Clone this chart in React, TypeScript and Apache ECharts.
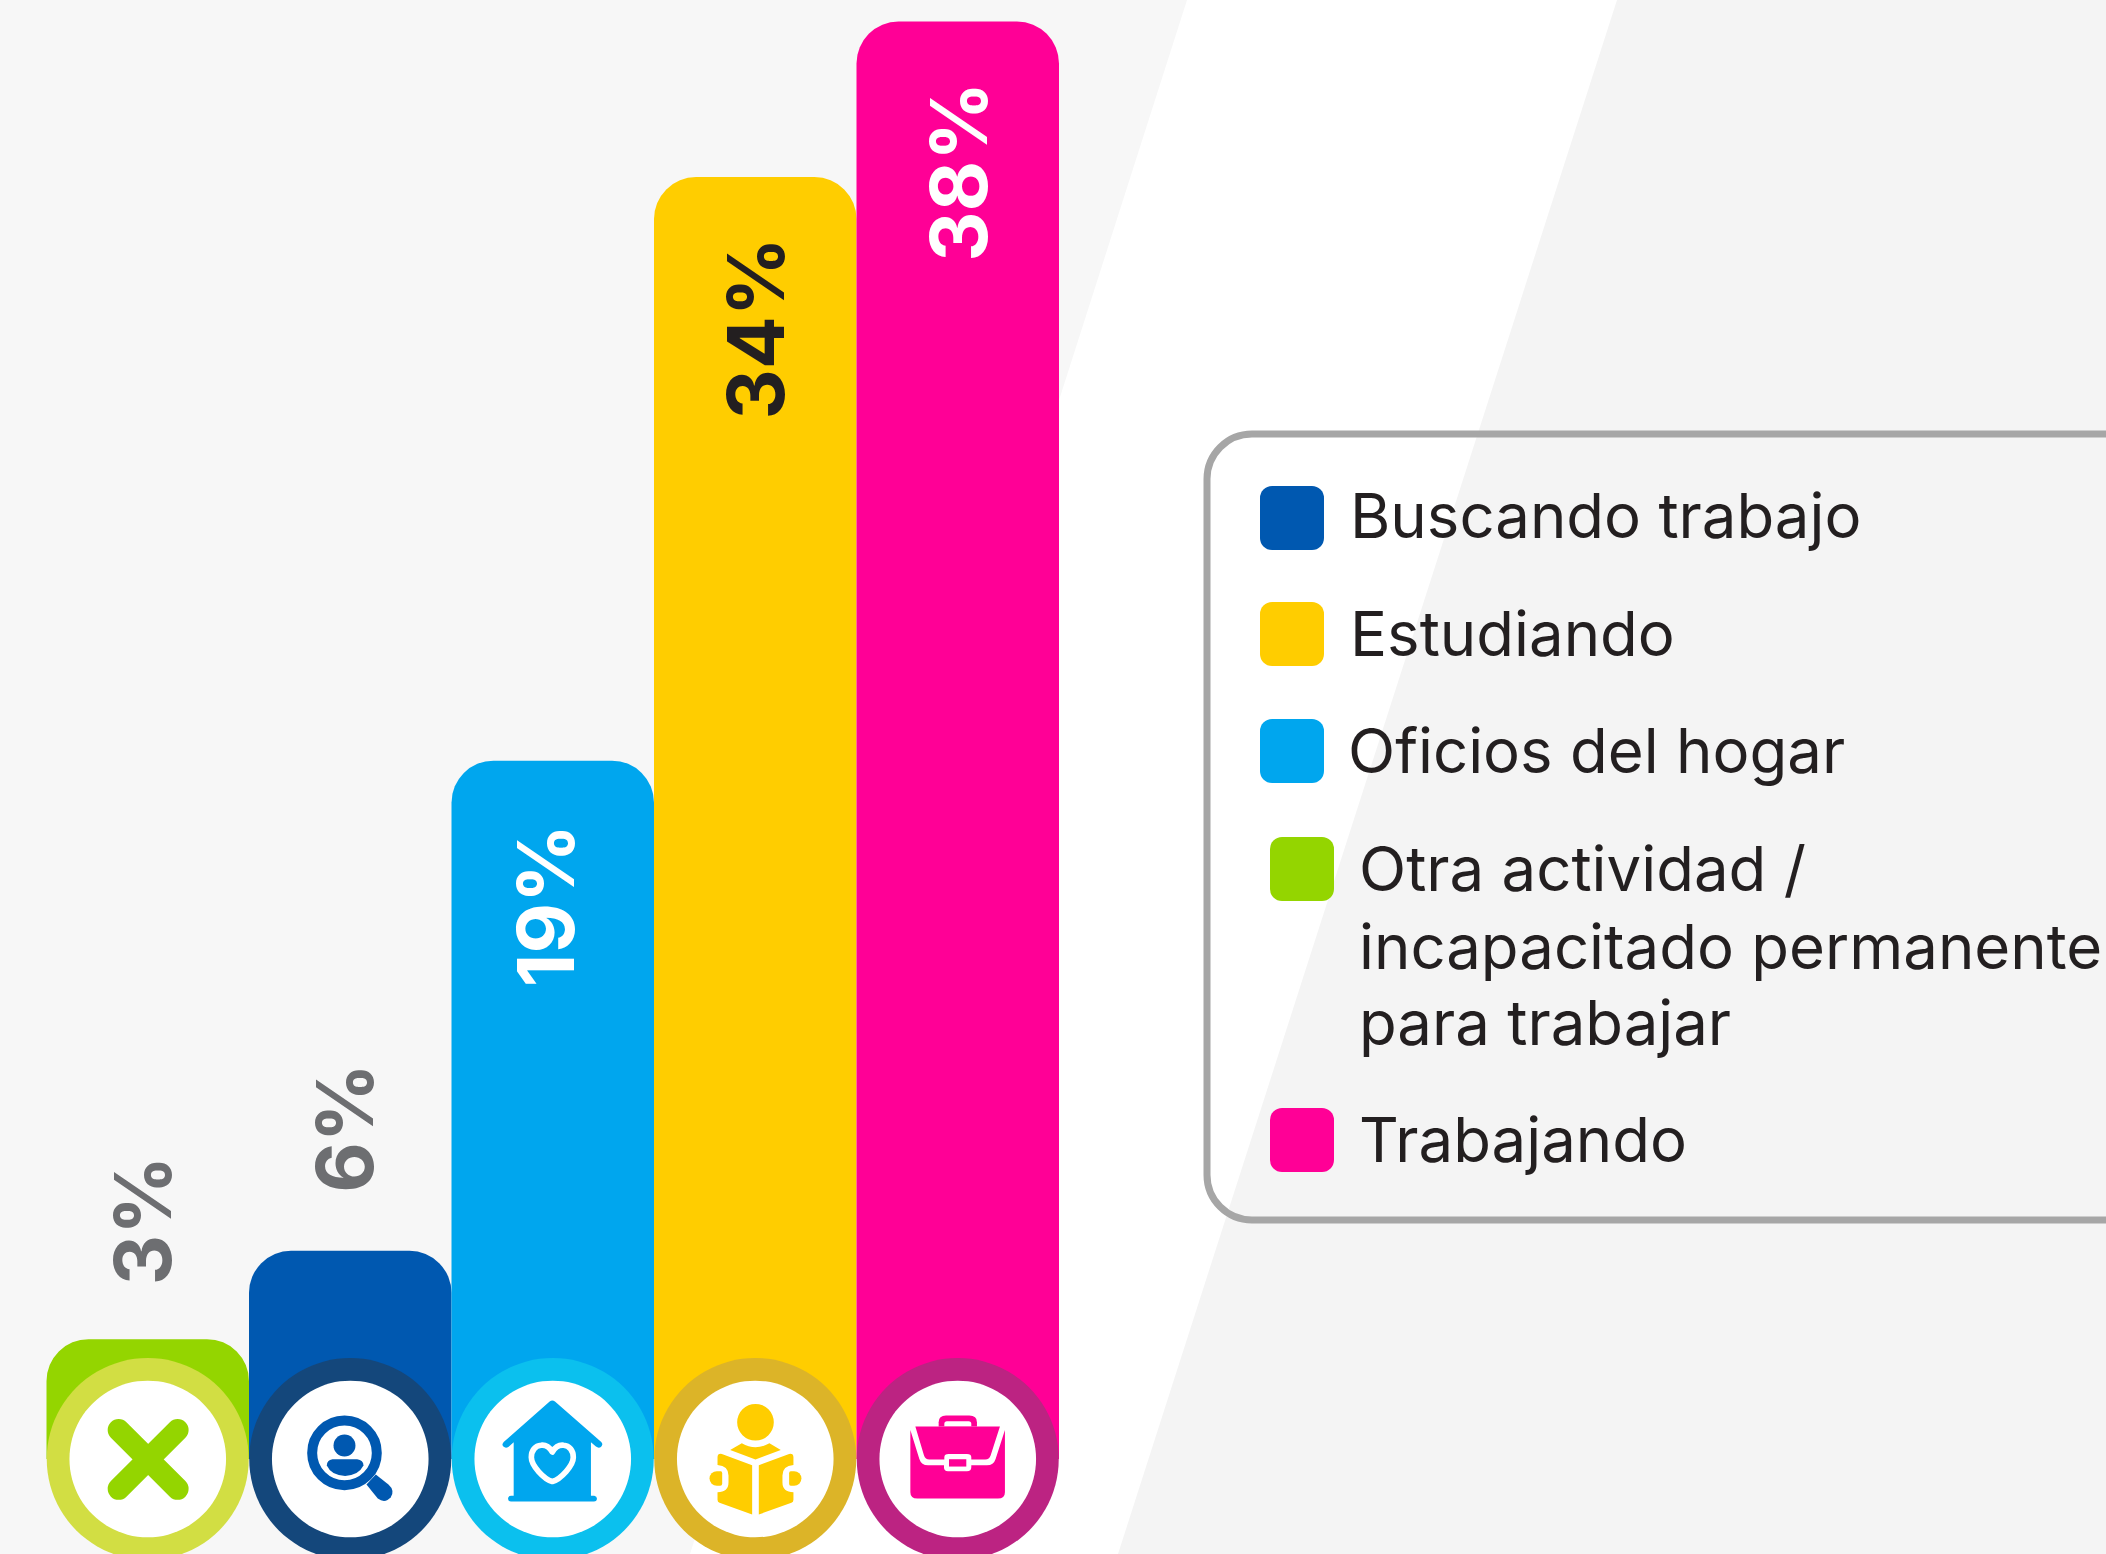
import React, { useEffect, useRef } from "react";
import * as echarts from "echarts";

const categories = ["Otra actividad / incapacitado permanente para trabajar", "Buscando trabajo", "Oficios del hogar", "Estudiando", "Trabajando"];
const percentLabels = [3, 6, 19, 34, 38];
const barHeights = [4.13, 6.4, 19, 34, 38];
const barColors = ["#94d500", "#0058b0", "#00a6ee", "#ffcd00", "#ff0096"];
const ringColors = ["#d2de43", "#14477b", "#0bc0ee", "#dcb428", "#bc2382"];
const labelColors = ["#6d6e71", "#6d6e71", "#ffffff", "#231f20", "#ffffff"];
const legendOrder = [1, 3, 2, 0, 4];
const legendLines = [["Buscando trabajo"], ["Estudiando"], ["Oficios del hogar"], ["Otra actividad /", "incapacitado permanente", "para trabajar"], ["Trabajando"]];

const AXIS_MIN = 1.05;
const AXIS_MAX = 38;

type Part = { d: string; fill?: string; stroke?: string; w?: number };
const M = "main";
const W = "#ffffff";
const circleD = (x: number, y: number, r: number) => `M${x},${y - r} A${r},${r} 0 1 1 ${x},${y + r} A${r},${r} 0 1 1 ${x},${y - r} Z`;

const icons: { cx: number; cy: number; parts: Part[] }[] = [
  { cx: 322, cy: 315, parts: [
    { d: "M235,228 L412,405", stroke: M, w: 66 },
    { d: "M412,228 L235,405", stroke: M, w: 66 },
  ] },
  { cx: 315, cy: 315, parts: [
    { d: circleD(298, 297, 97), stroke: M, w: 30 },
    { d: circleD(298, 275, 33), fill: M },
    { d: "M262,316 L336,316 Q355,318 355,335 Q340,365 300,366 Q258,365 245,335 Q245,318 262,316 Z", fill: M },
    { d: "M392,362 L430,392 Q450,410 437,430 Q420,450 398,434 L364,392 Z", fill: M },
  ] },
  { cx: 317, cy: 315, parts: [
    { d: "M308,143 Q316,136 324,143 L463,264 Q470,272 462,279 Q455,284 447,278 L432,265 L432,426 L442,426 Q450,428 450,434 Q450,443 441,443 L192,443 Q183,443 183,434 Q183,427 192,426 L200,426 L200,265 L184,279 Q176,284 169,278 Q163,272 170,264 Z", fill: M },
    { d: "M316,294 C305,276 290,273 282,274 C265,275 253,290 253,310 C253,335 290,375 316,383 C342,375 379,335 379,310 C379,290 367,275 350,274 C342,273 327,276 316,294 Z", stroke: W, w: 17 },
  ] },
  { cx: 315, cy: 315, parts: [
    { d: circleD(316, 205, 55), fill: M },
    { d: "M240,288 L275,268 Q316,292 358,268 L392,288 L316,317 Z", fill: M },
    { d: "M202,310 Q202,298 215,300 L306,334 L306,482 L208,447 Q202,445 202,438 L202,415 Q235,415 235,385 L235,365 Q235,335 202,333 Z", fill: M },
    { d: "M430,310 Q430,298 417,300 L326,334 L326,482 L424,447 Q430,445 430,438 L430,415 Q397,415 397,385 L397,365 Q397,335 430,333 Z", fill: M },
    { d: "M200,352 L212,352 Q216,352 216,358 L216,390 Q216,396 210,396 L200,396 A22,22 0 0 1 200,352 Z", fill: M },
    { d: "M432,352 L422,352 Q417,352 417,358 L417,390 Q417,396 422,396 L432,396 A22,22 0 0 0 432,352 Z", fill: M },
  ] },
  { cx: 317, cy: 315, parts: [
    { d: "M260,218 L260,205 Q260,185 282,185 L352,185 Q375,185 375,205 L375,218 Z", fill: M },
    { d: "M277,218 L277,210 Q277,202 285,202 L350,202 Q358,202 358,210 L358,218 Z", fill: W },
    { d: "M190,218 L444,218 L416,305 Q412,317 400,317 L358,317 L358,310 Q358,300 345,300 L290,300 Q277,300 277,310 L277,317 L232,317 Q220,317 216,305 Z", fill: M },
    { d: "M175,228 L202,315 Q208,334 228,334 L276,334 L276,340 Q276,352 288,352 L345,352 Q358,352 358,340 L358,334 L405,334 Q425,334 431,315 L459,228 L459,415 Q459,434 438,434 L196,434 Q175,434 175,415 Z", fill: M },
    { d: "M291,316 L343,316 L343,338 L291,338 Z", fill: M },
  ] },
];

icons.forEach((ic, i) =>
  ic.parts.forEach((p, j) => {
    echarts.graphic.registerShape(`ic${i}_${j}`, echarts.graphic.extendPath(p.d, {}) as any);
  })
);

const labelLayout = [
  { outside: true, distance: 54, dx: -5 },
  { outside: true, distance: 58, dx: -6 },
  { outside: false, distance: 63, dx: -7 },
  { outside: false, distance: 60, dx: 0 },
  { outside: false, distance: 60, dx: 1 },
];

const legendLayout = [
  { sx: 1260, sy: 486, tx: 1350, ty: [515] },
  { sx: 1260, sy: 602, tx: 1350, ty: [633] },
  { sx: 1260, sy: 719, tx: 1348, ty: [750] },
  { sx: 1270, sy: 837, tx: 1359, ty: [868, 946, 1022] },
  { sx: 1270, sy: 1108, tx: 1359, ty: [1139] },
];

export default function App() {
  const ref = useRef<HTMLDivElement>(null);
  useEffect(() => {
    const chart = echarts.init(ref.current!, undefined, { renderer: "svg" });
    const legendEls: any[] = [];
    legendOrder.forEach((cat, i) => {
      const l = legendLayout[i];
      legendEls.push({ type: "rect", z: 2, shape: { x: l.sx, y: l.sy, width: 64, height: 64, r: 12 }, style: { fill: barColors[cat] } });
      legendLines[i].forEach((line, k) => {
        legendEls.push({ type: "text", z: 2, x: l.tx, y: l.ty[k], style: { text: line, fill: "#231f20", font: '400 61.7px Inter', textAlign: "left", textVerticalAlign: "middle" } });
      });
    });
    chart.setOption({
      animation: false,
      backgroundColor: "#f7f7f7",
      grid: { left: 46.5, top: 21.5, width: 1012.5, height: 1437.5, containLabel: false },
      xAxis: { type: "category", data: categories, show: false, boundaryGap: true },
      yAxis: { type: "value", min: AXIS_MIN, max: AXIS_MAX, show: false },
      graphic: { elements: [
        { type: "rect", z: -20, silent: true, shape: { x: 690, y: 0, width: 1416, height: 1554 }, style: { fill: "#ffffff" } },
        { type: "polygon", z: -20, silent: true, shape: { points: [[0, 0], [1187, 0], [690, 1554], [0, 1554]] }, style: { fill: "#f7f7f7" } },
        { type: "polygon", z: -20, silent: true, shape: { points: [[1617, 0], [2106, 0], [2106, 1554], [1118, 1554]] }, style: { fill: "#f4f4f4" } },
        { type: "rect", z: 1, shape: { x: 1207, y: 434, width: 1300, height: 786, r: 45 }, style: { fill: "none", stroke: "#a6a6a6", lineWidth: 7 } },
        ...legendEls,
      ] },
      series: [
        {
          type: "bar",
          barWidth: "100%",
          z: 2,
          data: barHeights.map((v, i) => {
            const ll = labelLayout[i];
            return {
              value: v,
              itemStyle: { color: barColors[i], borderRadius: [42, 42, 0, 0] },
              label: {
                show: true,
                position: ll.outside ? "top" : "insideTop",
                distance: ll.distance,
                rotate: 90,
                align: ll.outside ? "left" : "right",
                verticalAlign: "middle",
                offset: [0, ll.dx],
                color: labelColors[i],
                fontFamily: "Inter",
                fontWeight: 700,
                fontSize: 78,
                formatter: () => `${percentLabels[i]}%`,
              },
            };
          }),
        },
        {
          type: "custom",
          z: 3,
          clip: false,
          coordinateSystem: "cartesian2d",
          data: percentLabels.map((_, i) => [i, AXIS_MIN]),
          renderItem: (_p: any, api: any) => {
            const idx = api.value(0);
            const c = api.coord([idx, api.value(1)]);
            const ic = icons[idx];
            return {
              type: "group",
              x: c[0],
              y: c[1],
              children: [
                { type: "circle", shape: { cx: 0, cy: 0, r: 101 }, style: { fill: ringColors[idx] } },
                { type: "circle", shape: { cx: 0, cy: 0, r: 78.3 }, style: { fill: "#ffffff" } },
                {
                  type: "group",
                  x: -ic.cx / 3,
                  y: -ic.cy / 3,
                  scaleX: 1 / 3,
                  scaleY: 1 / 3,
                  children: ic.parts.map((p, j) => ({
                    type: `ic${idx}_${j}`,
                    style: p.stroke
                      ? { fill: "none", stroke: p.stroke === M ? barColors[idx] : p.stroke, lineWidth: p.w, lineCap: "round", lineJoin: "round" }
                      : { fill: p.fill === M ? barColors[idx] : p.fill },
                  })),
                },
              ],
            };
          },
        },
      ],
    });
    return () => chart.dispose();
  }, []);
  return <div ref={ref} style={{ position: "absolute", left: 0, top: 0, width: 2106, height: 1554, overflow: "hidden" }} />;
}
